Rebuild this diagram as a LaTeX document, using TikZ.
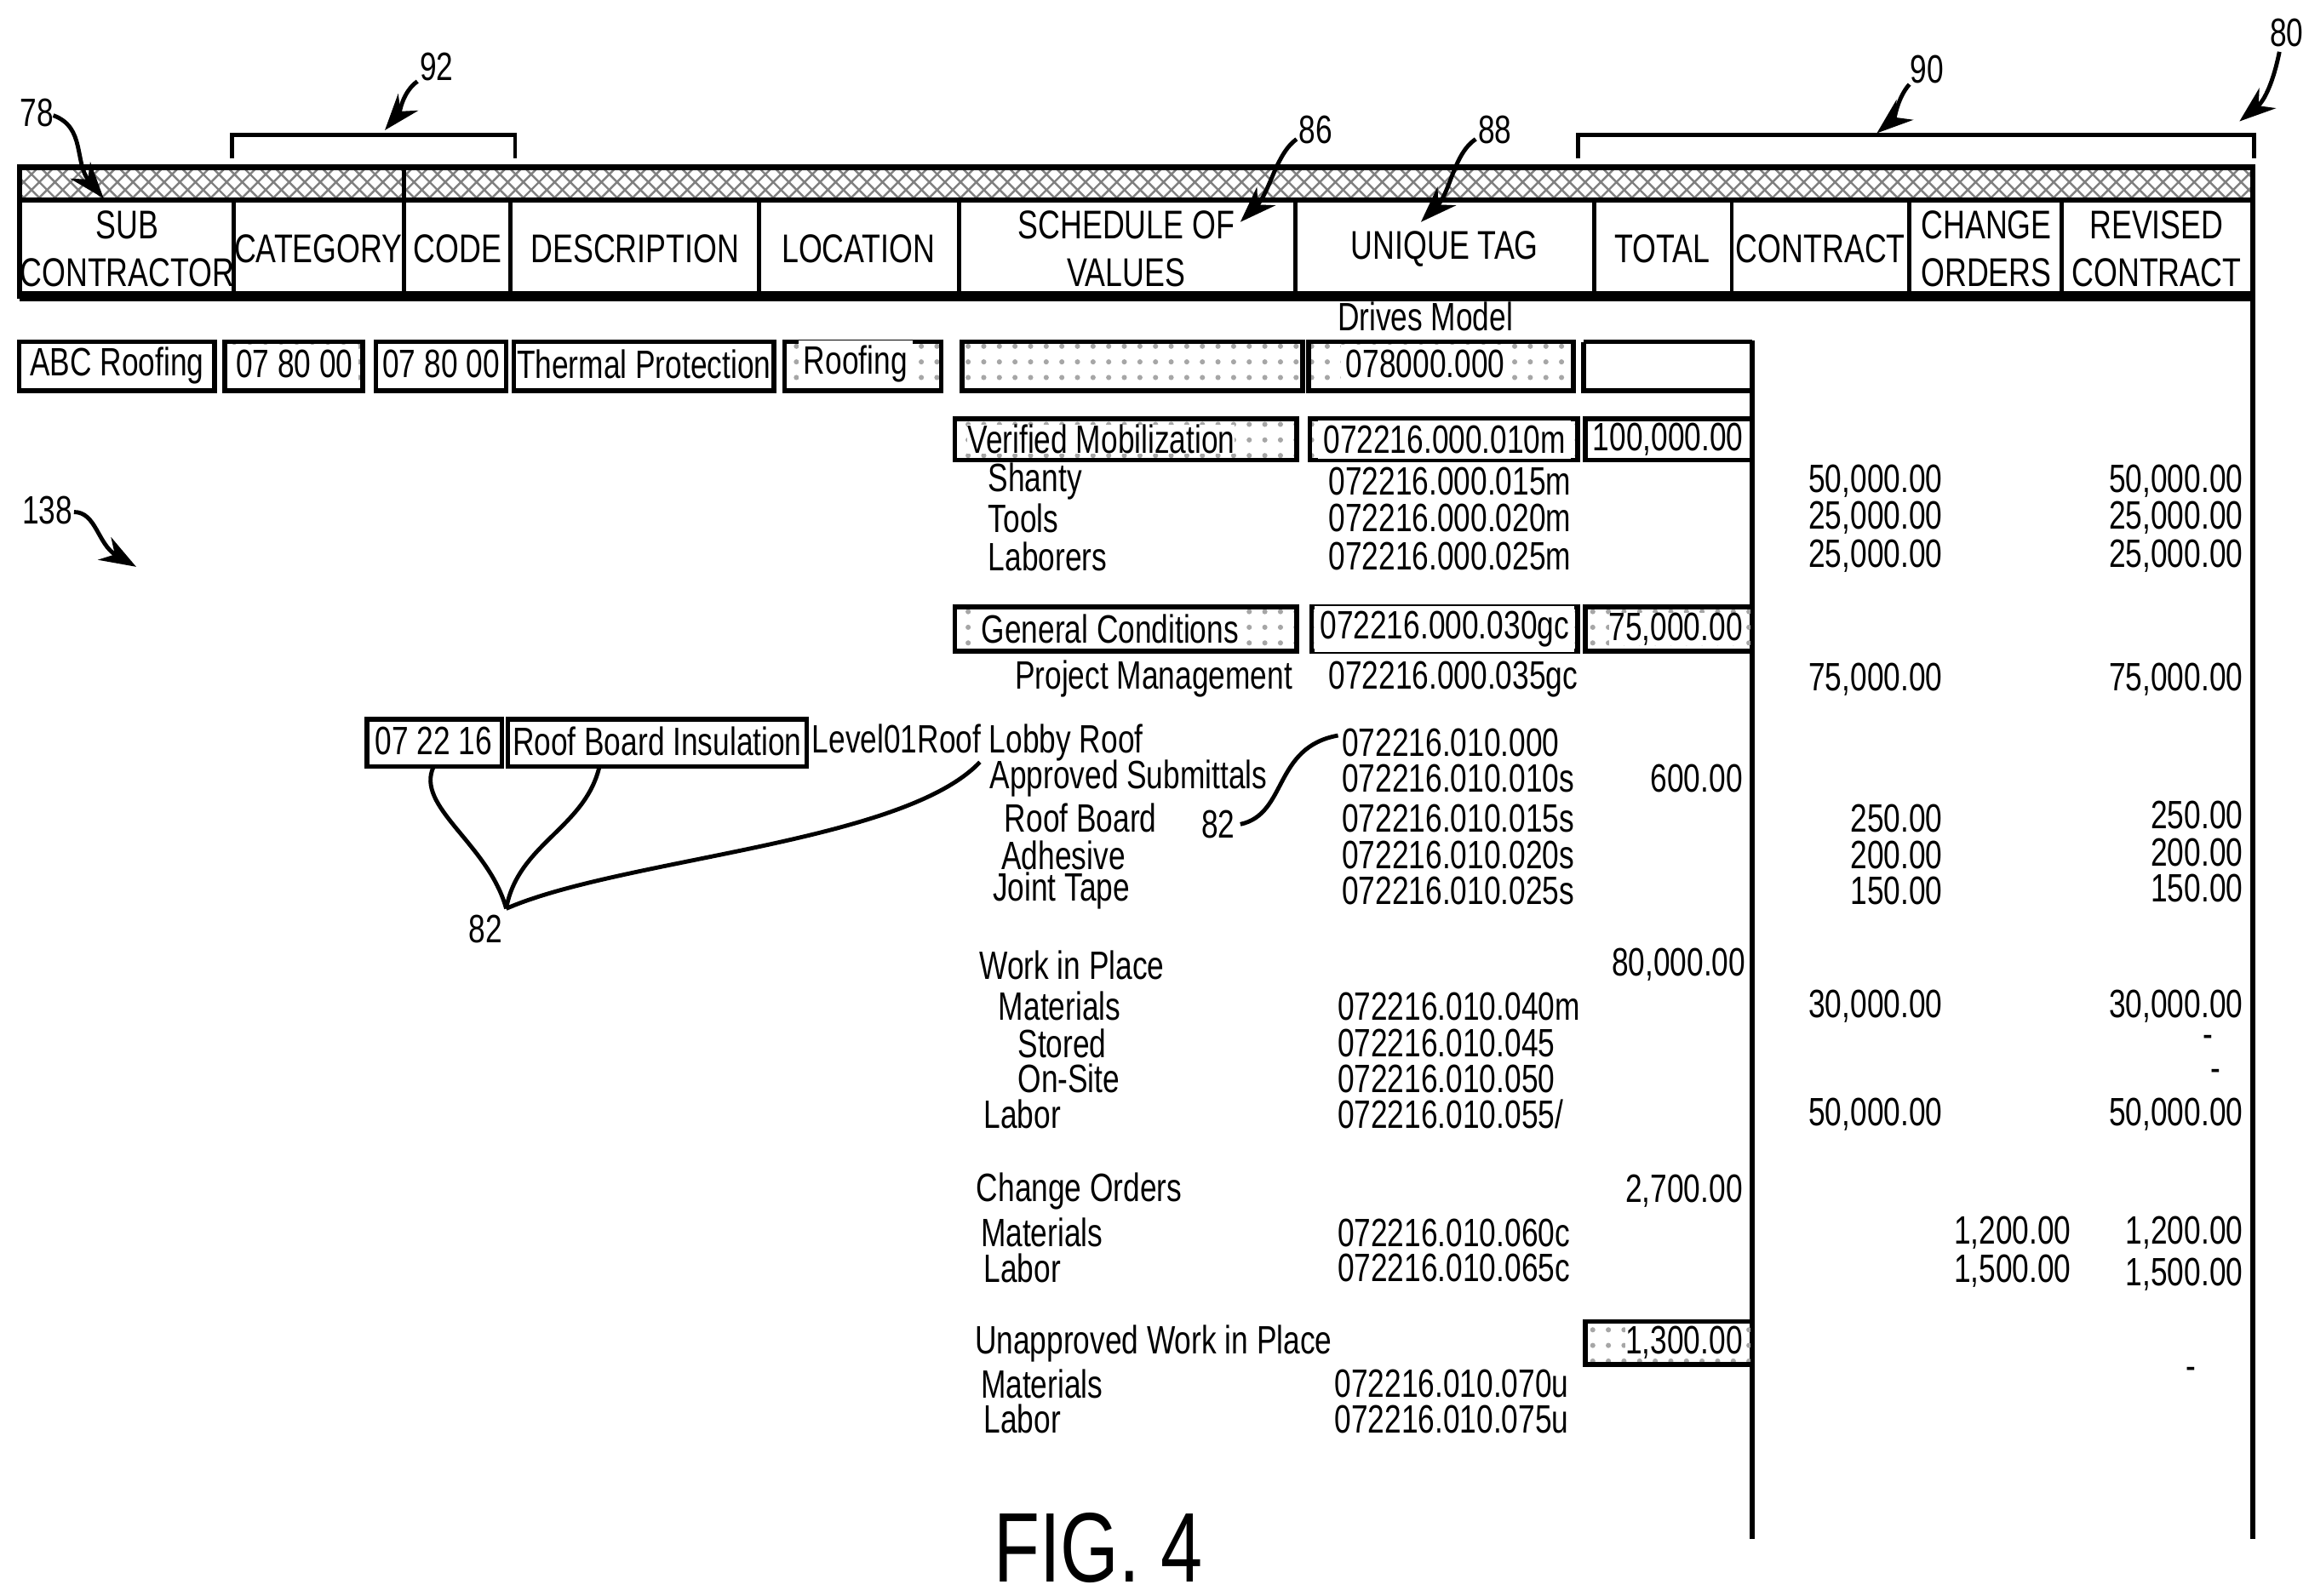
\documentclass[tikz,border=0pt]{standalone}
\usepackage{fontspec}
\setmainfont{Liberation Sans}[FakeStretch=0.76]
\usetikzlibrary{positioning,arrows.meta,patterns}
\begin{document}
\begin{tikzpicture}[x=0.01cm,y=-0.01cm,font=\fontsize{7.6}{8.4}\selectfont]
\tikzset{cell/.style={draw,line width=0.9pt},
  dotbox/.style={draw,line width=0.9pt,pattern=dots,pattern color=gray!70},
  txt/.style={inner sep=0pt,anchor=west},
  num/.style={inner sep=0pt,anchor=east},
  nilval/.style={inner sep=0pt},
  ref/.style={-{Stealth[length=7pt,width=5pt]},line width=0.8pt},
  lead/.style={line width=0.8pt}}
\useasboundingbox (0,0) rectangle (1560,1078);
% header band
\draw[line width=1pt,pattern=crosshatch,pattern color=gray] (13,113) rectangle (1522,135);
\draw[line width=0.8pt] (273,113) -- (273,135);
\draw[line width=1pt] (13,135) rectangle (1522,200);
\draw[line width=2pt] (13,200) -- (1522,200);
\foreach \x in {158,273,345,513,648,875,1077,1170,1290,1393}
  \draw[line width=0.8pt] (\x,135) -- (\x,200);
\foreach \x/\t in {86/{SUB\\CONTRACTOR},215/CATEGORY,309/CODE,429/DESCRIPTION,580/LOCATION,
  761/{SCHEDULE OF\\VALUES},976/UNIQUE TAG,1123/TOTAL,1230/CONTRACT,1342/{CHANGE\\ORDERS},1457/{REVISED\\CONTRACT}}
  \node[align=center,inner sep=0pt,font=\fontsize{7.7}{9.2}\selectfont] at (\x,168) {\t};
\draw[line width=1pt] (1184,230) -- (1184,1040);
\draw[line width=1pt] (1522,200) -- (1522,1040);
% first row
\node[inner sep=0pt] (drives) at (963,214) {Drives Model};
\draw[cell] (13,231) rectangle (145,264); \node (sub) at (79,247) {ABC Roofing};
\draw[dotbox] (152,231) rectangle (245,264); \node[fill=white,inner sep=1pt] (cat) at (199,246) {07 80 00};
\draw[cell] (254,231) rectangle (342,264); \node (code) at (298,246) {07 80 00};
\draw[cell] (347,231) rectangle (523,264); \node (desc) at (435,246) {Thermal Protection};
\draw[dotbox] (530,231) rectangle (636,264); \node[fill=white,inner sep=1pt] (loc) at (578,246) {Roofing};
\draw[dotbox] (650,231) rectangle (880,264);
\draw[dotbox] (884,231) rectangle (1063,264); \node[fill=white,inner sep=1pt] (tag) at (963,246) {078000.000};
\draw[cell] (1070,231) -- (1070,264) -- (1184,264) (1070,231) -- (1184,231);
% verified mobilization
\draw[dotbox] (645,283) rectangle (876,311); \node[fill=white,inner sep=1pt,txt] (vm) at (653,297) {Verified Mobilization};
\draw[dotbox] (885,283) rectangle (1066,311); \node[fill=white,inner sep=1pt] (vmtag) at (976,297) {072216.000.010m};
\draw[cell] (1071,283) rectangle (1184,311); \node (vmtot) at (1127,297) {100,000.00};
\foreach \y/\a/\b/\c in {325/Shanty/015m/50,350/Tools/020m/25,376/Laborers/025m/25}{
  \node[txt] at (667,\y) {\a};
  \node[txt] at (897,\y) {072216.000.\b};
  \node[num] at (1313,\y) {\c,000.00};
  \node[num] at (1516,\y) {\c,000.00};}
% general conditions
\draw[dotbox] (645,410) rectangle (876,440); \node[fill=white,inner sep=1pt] (gc) at (750,425) {General Conditions};
\draw[dotbox] (886,410) rectangle (1066,440); \node[fill=white,inner sep=1pt] (gctag) at (976,425) {072216.000.030gc};
\draw[dotbox] (1071,410) rectangle (1184,440); \node[fill=white,inner sep=1pt,num] (gctot) at (1178,425) {75,000.00};
\node[txt] at (685,459) {Project Management};
\node[txt] at (897,459) {072216.000.035gc};
\node[num] at (1313,459) {75,000.00};
\node[num] at (1516,459) {75,000.00};
% roof board insulation
\draw[cell] (248,486) rectangle (339,518); \node (rcode) at (293,501) {07 22 16};
\draw[cell] (343,486) rectangle (545,518); \node (rdesc) at (444,501) {Roof Board Insulation};
\node[txt] (rloc) at (548,502) {Level01Roof Lobby Roof};
\node[txt] (rtag) at (906,502) {072216.010.000};
\node[txt] at (668,526) {Approved Submittals};
\node[txt] at (906,526) {072216.010.010s};
\node[num] at (1178,526) {600.00};
\foreach \x/\y/\a/\b/\c in {678/553/Roof Board/015s/250,676/578/Adhesive/020s/200,670/602/Joint Tape/025s/150}{
  \node[txt] at (\x,\y) {\a};
  \node[txt] at (906,\y) {072216.010.\b};
  \node[num] at (1313,\y) {\c.00};
  \node[num] at (1516,\y-2) {\c.00};}
% work in place
\node[txt] at (661,652) {Work in Place};
\node[num] at (1180,652) {80,000.00};
\node[txt] at (674,680) {Materials};
\node[txt] at (903,680) {072216.010.040m};
\node[num] at (1313,680) {30,000.00};
\node[num] at (1516,680) {30,000.00};
\node[txt] at (687,705) {Stored};
\node[txt] at (903,705) {072216.010.045};
\node[nilval] at (1492,704) {-};
\node[txt] at (687,729) {On-Site};
\node[txt] at (903,729) {072216.010.050};
\node[nilval] at (1497,727) {-};
\node[txt] at (664,753) {Labor};
\node[txt] at (903,753) {072216.010.055/};
\node[num] at (1313,753) {50,000.00};
\node[num] at (1516,753) {50,000.00};
% change orders
\node[txt] at (659,805) {Change Orders};
\node[num] at (1178,805) {2,700.00};
\node[txt] at (662,833) {Materials};
\node[txt] at (903,833) {072216.010.060c};
\node[num] at (1400,833) {1,200.00};
\node[num] at (1516,833) {1,200.00};
\node[txt] at (664,857) {Labor};
\node[txt] at (903,857) {072216.010.065c};
\node[num] at (1400,859) {1,500.00};
\node[num] at (1516,861) {1,500.00};
% unapproved
\node[txt] at (658,908) {Unapproved Work in Place};
\draw[dotbox] (1071,893) rectangle (1184,922); \node[fill=white,inner sep=1pt,num] (uwtot) at (1178,907) {1,300.00};
\node[txt] at (662,935) {Materials};
\node[txt] at (901,935) {072216.010.070u};
\node[nilval] at (1480,928) {-};
\node[txt] at (664,959) {Labor};
\node[txt] at (901,959) {072216.010.075u};
\node[inner sep=0pt,font=\fontsize{19}{22}\selectfont] (fig) at (742,1046) {FIG. 4};
% reference numerals
\node (r78) at (25,76) {78};
\draw[ref] (36,78) .. controls (58,86) and (50,110) .. (70,134);
\draw[lead] (157,107) -- (157,91) -- (348,91) -- (348,107);
\node (r92) at (295,45) {92};
\draw[ref] (282,55) .. controls (272,62) and (270,76) .. (260,88);
\node (r86) at (889,88) {86};
\draw[ref] (876,94) .. controls (862,104) and (858,130) .. (838,150);
\node (r88) at (1010,88) {88};
\draw[ref] (997,94) .. controls (982,104) and (980,130) .. (960,150);
\draw[lead] (1066,107) -- (1066,91) -- (1523,91) -- (1523,107);
\node (r90) at (1302,47) {90};
\draw[ref] (1290,57) .. controls (1282,66) and (1280,80) .. (1268,90);
\node (r80) at (1545,22) {80};
\draw[ref] (1540,35) .. controls (1536,55) and (1530,68) .. (1513,82);
\node (r138) at (32,345) {138};
\draw[ref] (50,346) .. controls (65,346) and (66,368) .. (92,383);
\node (r82a) at (328,628) {82};
\coordinate (fork) at (342,614);
\draw[lead] (fork) .. controls (330,570) and (280,545) .. (293,518);
\draw[lead] (fork) .. controls (350,570) and (395,560) .. (405,518);
\draw[lead] (fork) .. controls (420,580) and (610,570) .. (662,515);
\node (r82b) at (823,557) {82};
\draw[lead] (838,557) .. controls (870,550) and (860,505) .. (904,497);
\end{tikzpicture}
\end{document}
